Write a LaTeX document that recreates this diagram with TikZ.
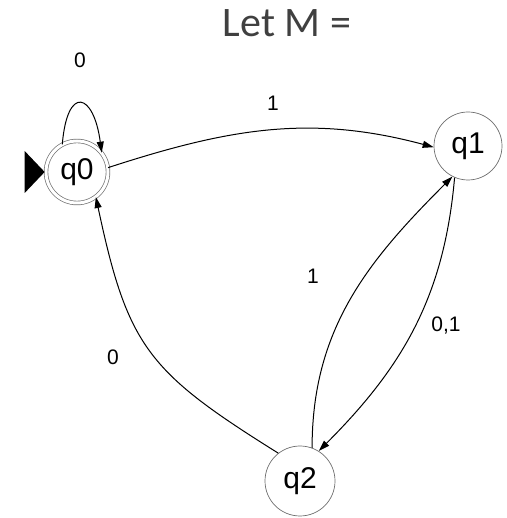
\documentclass[tikz,border=0pt]{standalone}
\usepackage{fontspec}
\setmainfont{Liberation Sans}
\newfontfamily\titlefont{Carlito}
\usetikzlibrary{arrows.meta}
\definecolor{ringc}{HTML}{6E6E6E}
\definecolor{titlec}{HTML}{404040}
\tikzset{
  st/.style={circle,draw=ringc,line width=0.7pt,minimum size=68pt,inner sep=0pt,font=\fontsize{30}{32}\selectfont},
  acc/.style={st,minimum size=62pt,double,double distance=3pt},
  ar/.style={-{Triangle[length=11pt,width=7pt]},line width=1pt},
  lbl/.style={font=\fontsize{21}{24}\selectfont}
}
\begin{document}
\begin{tikzpicture}[x=1pt,y=1pt]
\useasboundingbox (0,0) rectangle (506,518);
\node[font=\titlefont\fontsize{42}{46}\selectfont,text=titlec] (title) at (287,495) {Let M =};
% states
\node[acc] (q0) at (77,346) {q0};
\node[st] (q1) at (468,372) {q1};
\node[st,minimum size=70pt] (q2) at (300,37) {q2};
% start marker
\fill ([xshift=-1pt]q0.west) -- ++(-20,21) -- ++(0,-42) -- cycle;
% transitions
\draw[ar] (q0.118) .. controls +(5,60) and +(-8,60) .. (q0.38);
\draw[ar] (q0.8) to[out=18,in=165] (q1.182);
\draw[ar] (q2.70) to[out=90,in=225] (q1.243);
\draw[ar] (q1.247) to[out=-95,in=45] (q2.58);
\draw[ar] (q2.128) to[out=148,in=-78,looseness=1.25] (q0.-53);
% labels
\node[lbl] (l00) at (80,458) {0};
\node[lbl] (l01) at (273,415) {1};
\node[lbl] (l21) at (313,242) {1};
\node[lbl] (l12) at (446,192) {0,1};
\node[lbl] (l20) at (113,161) {0};
\end{tikzpicture}
\end{document}
